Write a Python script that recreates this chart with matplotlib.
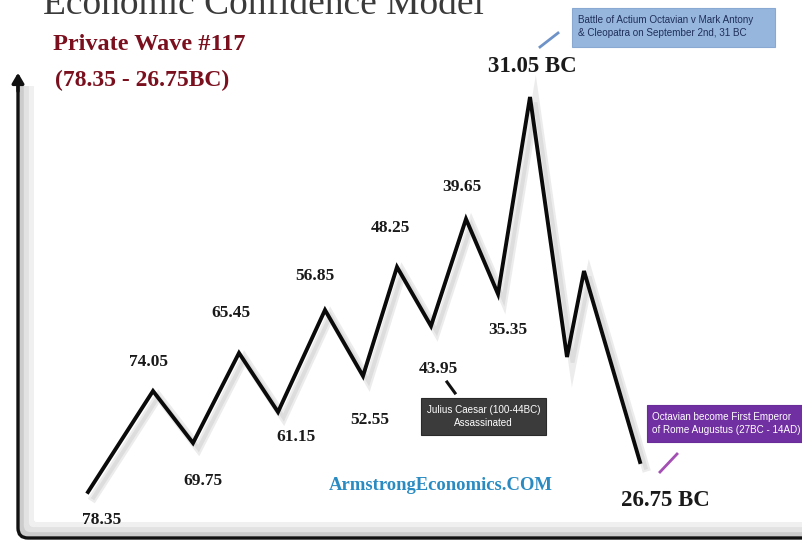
import matplotlib
matplotlib.use("Agg")
import matplotlib.pyplot as plt
import matplotlib.patheffects as pe
from matplotlib.patches import Rectangle, FancyArrowPatch
from matplotlib.path import Path
from matplotlib.patches import PathPatch

# ---- data: wave pivots (model time position, confidence level) ----
wave_x = [88, 153, 193, 239, 278, 325, 363, 397, 431, 466, 498, 530, 567, 584, 640]
wave_y = [52, 153, 101, 191, 132, 234, 168, 277, 218, 325, 250, 447, 187, 273, 82]
pivot_labels = ["78.35", "74.05", "69.75", "65.45", "61.15", "56.85", "52.55",
                "48.25", "43.95", "39.65", "35.35", "31.05 BC", "", "", "26.75 BC"]
# label offsets (x, y) relative to each pivot
label_dx = [14, -5, 10, -8, 18, -10, 7, -7, 7, -4, 10, 2, 0, 0, 25]
label_dy = [-28, 29, -38, 40, -25, 34, -44, 39, -43, 32, -36, 30, 0, 0, -38]

title = "Economic Confidence Model"
subtitle1 = "Private Wave #117"
subtitle2 = "(78.35 - 26.75BC)"
watermark = "ArmstrongEconomics.COM"
note_actium = "Battle of Actium Octavian v Mark Antony\n& Cleopatra on September 2nd, 31 BC"
note_caesar = "Julius Caesar (100-44BC)\nAssassinated"
note_octavian = "Octavian become First Emperor\nof Rome Augustus (27BC - 14AD)"

W, H = 802, 544
fig = plt.figure(figsize=(W / 100, H / 100), dpi=100)
ax = fig.add_axes([0, 0, 1, 1])
ax.set_xlim(0, W)
ax.set_ylim(0, H)
ax.axis("off")

serif = ["Liberation Serif", "DejaVu Serif"]
sans = ["Liberation Sans", "DejaVu Sans"]

# ---- frame axes (y axis with arrow, rounded corner into x axis) ----
for off, col, lw in [(9, "#f0f0f0", 10), (6, "#e2e2e2", 7), (3, "#cccccc", 4)]:
    verts = [(18 + off, 458), (18 + off, 16 + off), (18 + off, 6 + off), (28 + off, 6 + off), (W, 6 + off)]
    codes = [Path.MOVETO, Path.LINETO, Path.CURVE3, Path.CURVE3, Path.LINETO]
    ax.add_patch(PathPatch(Path(verts, codes), fill=False, lw=lw, edgecolor=col, capstyle="butt"))
verts = [(18, 462), (18, 16), (18, 6), (28, 6), (W, 6)]
codes = [Path.MOVETO, Path.LINETO, Path.CURVE3, Path.CURVE3, Path.LINETO]
ax.add_patch(PathPatch(Path(verts, codes), fill=False, lw=2.4, edgecolor="#111111"))
ax.add_patch(FancyArrowPatch((18, 450), (18, 474), arrowstyle="-|>,head_length=6,head_width=3.5",
                             mutation_scale=1, color="#111111", lw=2.4))

# ---- wave line ----
ax.plot(wave_x, wave_y, color="#0a0a0a", lw=2.8, solid_joinstyle="miter",
        path_effects=[pe.SimpleLineShadow(offset=(4, -4), shadow_color="#aaaaaa", alpha=0.22,
                                          linewidth=6),
                      pe.SimpleLineShadow(offset=(4, -4), shadow_color="#999999", alpha=0.18),
                      pe.Normal()])

# ---- pivot labels ----
for x, y, lab, dx, dy in zip(wave_x, wave_y, pivot_labels, label_dx, label_dy):
    if not lab:
        continue
    big = "BC" in lab
    ax.text(x + dx, y + dy, lab, ha="center", va="center", family=serif,
            fontsize=16.5 if big else 12.5, fontweight="bold", color="#1a1a1a")

# ---- titles ----
ax.text(43, H - 14, title, ha="left", va="baseline", family=serif, fontsize=27, color="#3a3a3a")
ax.text(53, H - 44, subtitle1, ha="left", va="center", family=serif, fontsize=17.5,
        fontweight="bold", color="#7a0f1e")
ax.text(55, H - 80, subtitle2, ha="left", va="center", family=serif, fontsize=17,
        fontweight="bold", color="#7a0f1e")

# ---- watermark ----
ax.text(441, H - 485, watermark, ha="center", va="center", family=serif, fontsize=13.4,
        fontweight="bold", color="#2a8bc2")

# ---- annotation boxes ----
ax.add_patch(Rectangle((572, H - 47), 203, 39, facecolor="#97b6dd", edgecolor="#8aa9d2", lw=0.8))
ax.text(578, H - 26.5, note_actium, ha="left", va="center", family=sans, fontsize=7.1,
        color="#1f2f5a", linespacing=1.35)
ax.plot([540, 558], [H - 47, H - 33], color="#6e93c9", lw=2)

ax.add_patch(Rectangle((421, H - 435), 125, 37, facecolor="#3b3b3b", edgecolor="#2a2a2a", lw=0.8))
ax.text(483.5, H - 416.5, note_caesar, ha="center", va="center", family=sans, fontsize=7.1,
        color="white", linespacing=1.35)
ax.plot([447, 455], [H - 382, H - 393], color="#111111", lw=2.2)

ax.add_patch(Rectangle((647, H - 442), 160, 37, facecolor="#7130a2", edgecolor="#6a2c99", lw=0.8))
ax.text(652, H - 423.5, note_octavian, ha="left", va="center", family=sans, fontsize=7.1,
        color="white", linespacing=1.35)
ax.plot([660, 677], [H - 472, H - 454], color="#a34fb3", lw=2)

fig.savefig("out.png", dpi=100)
